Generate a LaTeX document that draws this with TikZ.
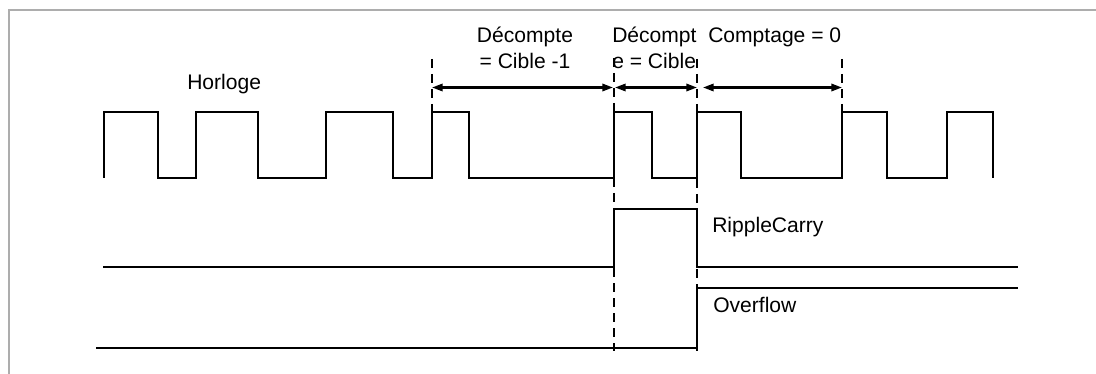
\documentclass[tikz,border=0pt]{standalone}
\usepackage{fontspec}
\setmainfont{Liberation Sans}
\usetikzlibrary{arrows.meta}
\begin{document}
\begin{tikzpicture}[x=0.75pt,y=-0.75pt,
  sig/.style={line width=1.5pt,line join=miter},
  guide/.style={line width=1.4pt,dash pattern=on 6.75pt off 4.5pt},
  span/.style={line width=1.6pt,{Triangle[length=8pt,width=5.5pt]}-{Triangle[length=8pt,width=5.5pt]}},
  lbl/.style={inner sep=0pt,font=\fontsize{15.8}{19.5}\selectfont},
  frame/.style={draw=black!32,line width=1.6pt}]
\useasboundingbox (0,0) rectangle (1096,374);
% frame
\draw[frame] (1096,10) -- (9,10) -- (9,374);
% clock
\draw[sig] (104,178) -- (104,112.5) -- (158,112.5) -- (158,178) -- (196,178) -- (196,112.5)
  -- (258,112.5) -- (258,178) -- (326,178) -- (326,112.5) -- (393,112.5) -- (393,178)
  -- (432,178) -- (432,112.5) -- (469,112.5) -- (469,178) -- (614,178) -- (614,112.5)
  -- (652,112.5) -- (652,178) -- (697,178) -- (697,112.5) -- (741,112.5) -- (741,178)
  -- (842,178) -- (842,112.5) -- (887,112.5) -- (887,178) -- (947,178) -- (947,112.5)
  -- (993,112.5) -- (993,178);
% RippleCarry
\draw[sig] (103,266.5) -- (614,266.5) -- (614,209.5) -- (697,209.5) -- (697,266.5) -- (1018,266.5);
% Overflow
\draw[sig] (96,347.5) -- (697,347.5) -- (697,288) -- (1018,288);
% guides
\coordinate (g1t) at (432,59); \coordinate (g1b) at (432,112);
\coordinate (g2t) at (614,58); \coordinate (g2b) at (614,351);
\coordinate (g3t) at (697,59); \coordinate (g3b) at (697,351);
\coordinate (g4t) at (842,59); \coordinate (g4b) at (842,112);
\draw[guide] (g1t) -- (g1b);
\draw[guide] (g2t) -- (g2b);
\draw[guide] (g3t) -- (g3b);
\draw[guide] (g4t) -- (g4b);
% spans
\coordinate (a1) at (432,87.5); \coordinate (a2) at (613,87.5);
\coordinate (b1) at (615,87.5); \coordinate (b2) at (697,87.5);
\coordinate (c1) at (703,87.5); \coordinate (c2) at (842,87.5);
\draw[span] (a1) -- (a2);
\draw[span] (b1) -- (b2);
\draw[span] (c1) -- (c2);
% labels
\node[lbl,anchor=base west] (horloge) at (187,90) {Horloge};
\node[lbl,anchor=base] (d1a) at (525,43) {Décompte};
\node[lbl,anchor=base] (d1b) at (525,69) {= Cible -1};
\node[lbl,anchor=base west] (d2a) at (612,43) {Décompt};
\node[lbl,anchor=base west] (d2b) at (612,69) {e = Cible};
\node[lbl,anchor=base west] (cpt) at (708,43) {Comptage = 0};
\node[lbl,anchor=base west] (rc) at (712,233) {RippleCarry};
\node[lbl,anchor=base west] (ov) at (713,312) {Overflow};
\end{tikzpicture}
\end{document}
